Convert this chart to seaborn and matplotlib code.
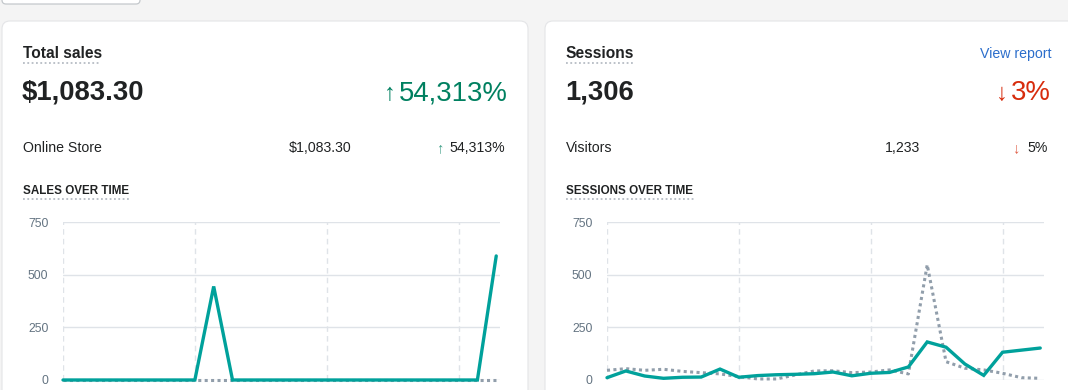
import matplotlib.pyplot as plt
import seaborn as sns
import pandas as pd
import numpy as np
from matplotlib.patches import FancyBboxPatch

# Daily values over the period (24 days)
days = list(range(24))
sales_current = [0, 0, 0, 0, 0, 0, 0, 0, 445, 0, 0, 0, 0, 0, 0, 0,
                 0, 0, 0, 0, 0, 0, 0, 590]
sales_previous = [0] * 24
sessions_current = [11, 43, 19, 8, 13, 14, 52, 13, 21, 25, 27, 30,
                    38, 20, 32, 36, 62, 181, 156, 76, 22, 132, 142, 152]
sessions_previous = [46, 54, 46, 51, 41, 35, 29, 16, 5, 5, 24, 43,
                     44, 35, 38, 48, 29, 548, 87, 56, 48, 32, 11, 8]
y_ticks = [0, 250, 500, 750]

TEAL = "#00a19b"
GREY = "#919eab"
GRID = "#dfe3e8"
TEXT = "#202223"

sns.set_style("white")
plt.rcParams["font.family"] = ["Liberation Sans", "DejaVu Sans"]

W, H = 1068, 390
fig = plt.figure(figsize=(W / 100, H / 100), dpi=100)
fig.patch.set_facecolor("#f4f4f4")

# background layer in pixel coordinates (y grows downward)
bg = fig.add_axes([0, 0, 1, 1])
bg.set_xlim(0, W)
bg.set_ylim(H, 0)
bg.axis("off")
renderer = fig.canvas.get_renderer()

# button peeking at the top and the two cards
bg.add_patch(FancyBboxPatch((2, -20), 138, 24, boxstyle="round,pad=0,rounding_size=4",
                            fc="white", ec="#c4c8cc", lw=0.9))
for x0, x1 in [(2, 528), (545, 1080)]:
    bg.add_patch(FancyBboxPatch((x0, 21), x1 - x0, 400, boxstyle="round,pad=0,rounding_size=8",
                                fc="white", ec="#e4e5e7", lw=0.8))


def dotted_title(x, y, s, size, width):
    bg.text(x, y, s, fontsize=size, fontweight="bold", color=TEXT, va="baseline")
    bg.plot([x, x + width], [y + 4.5, y + 4.5], color="#b6bcc4", lw=1.3,
            ls=(0, (1, 1.4)), solid_capstyle="butt")


def left_edge(t):
    # pixel x of a text's left edge (figure is 100 dpi, so display px == data px)
    return t.get_window_extent(renderer).x0


def card_text(x0, x1, title, tw, big, change, change_col, row, row_val, row_x,
              row_change, arrow_x, chart_title, cw):
    dotted_title(x0, 58, title, 11.2, tw)
    bg.text(x0 - 1, 100, big, fontsize=19.8, fontweight="bold", color=TEXT, va="baseline")
    t = bg.text(x1, 100, change[1], fontsize=19.8, color=change_col, va="baseline", ha="right")
    bg.text(left_edge(t) - 3, 100, change[0], fontsize=17,
            color=change_col, va="baseline", ha="right")
    bg.text(x0, 152, row, fontsize=10.2, color=TEXT, va="baseline")
    bg.text(row_x, 152, row_val, fontsize=10.2, color=TEXT, va="baseline", ha="right")
    bg.text(x1 - 3, 152, row_change[1], fontsize=10.2, color=TEXT, va="baseline", ha="right")
    bg.text(arrow_x, 152, row_change[0], fontsize=10.5, color=change_col, alpha=0.75,
            va="baseline", ha="center")
    dotted_title(x0, 194, chart_title, 8.4, cw)


card_text(23, 508, "Total sales", 78, "$1,083.30", ("\u2191", "54,313%"), "#008060",
          "Online Store", "$1,083.30", 351, ("\u2191", "54,313%"), 440,
          "SALES OVER TIME", 108)
card_text(566, 1051, "Sessions", 69, "1,306", ("\u2193", "3%"), "#d72c0d",
          "Visitors", "1,233", 920, ("\u2193", "5%"), 1016,
          "SESSIONS OVER TIME", 129)
bg.text(1052, 58, "View report", fontsize=10.2, color="#2c6ecb", va="baseline", ha="right")


def chart(left_px, current, previous):
    ax = fig.add_axes([left_px / W, 10 / H, 437 / W, 157.7 / H])
    df = pd.DataFrame({"day": days, "current": current, "previous": previous})
    sns.lineplot(data=df, x="day", y="previous", ax=ax, color=GREY, lw=2.2,
                 linestyle=(0, (1, 1.1)), clip_on=False)
    sns.lineplot(data=df, x="day", y="current", ax=ax, color=TEAL, lw=2.4,
                 clip_on=False, solid_joinstyle="miter")
    ax.set_xlim(0, 23.2)
    ax.set_ylim(0, 750)
    ax.set_yticks(y_ticks)
    ax.set_xticks([0, 7, 14, 21])
    ax.set_xticklabels([])
    ax.set_xlabel("")
    ax.set_ylabel("")
    ax.set_facecolor("none")
    for s in ax.spines.values():
        s.set_visible(False)
    ax.grid(axis="y", color=GRID, lw=1)
    ax.grid(axis="x", color=GRID, lw=1, ls=(0, (4, 3)))
    ax.tick_params(axis="y", length=0, pad=10.5, labelsize=8.8, labelcolor="#637381")
    ax.tick_params(axis="x", length=4, color=GRID, width=1, direction="out")
    ax.set_axisbelow(True)
    return ax


chart(63, sales_current, sales_previous)
chart(607, sessions_current, sessions_previous)

fig.savefig("out.png", dpi=100, facecolor=fig.get_facecolor())
